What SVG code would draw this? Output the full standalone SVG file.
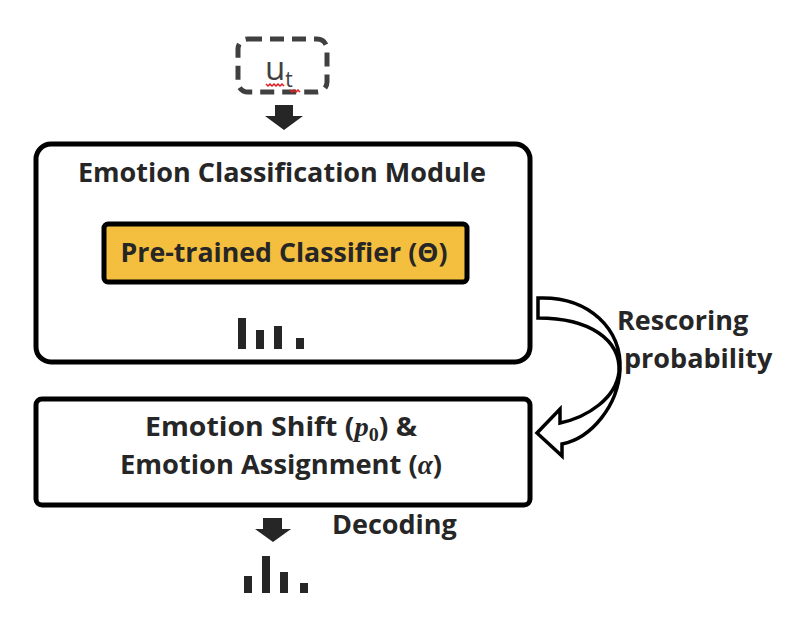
<svg xmlns="http://www.w3.org/2000/svg" width="788" height="620" viewBox="0 0 788 620">
<style>
.t{font-family:"Open Sans","Liberation Sans",sans-serif;font-weight:bold;fill:#262626;font-size:27px}
.box{fill:#fff;stroke:#000;stroke-width:5}
.bar{fill:#262626}
.blk{fill:#262626}
.m{font-family:"Liberation Serif",serif;font-style:italic}
</style>
<rect width="788" height="620" fill="#fff"/>
<g id="input">
<rect x="238" y="39" width="89" height="53" rx="10" fill="none" stroke="#404040" stroke-width="5" stroke-dasharray="14,8"/>
<text x="265" y="80" font-family="Open Sans,Liberation Sans,sans-serif" font-size="33" fill="#404040">u<tspan font-size="21" dy="7">t</tspan></text>
<path d="M266 84 l2 2 2-2 2 2 2-2 2 2 2-2 2 2 2-2 2 2 M290 90 l2 2 2-2 2 2 2-2 2 2" fill="none" stroke="#e02020" stroke-width="1.5"/>
</g>
<g id="module">
<rect class="box" x="36" y="144" width="494" height="218" rx="15"/>
<text class="t" x="282" y="182" text-anchor="middle" textLength="408" lengthAdjust="spacingAndGlyphs">Emotion Classification Module</text>
<g id="classifier">
<rect x="104" y="224" width="363" height="58" rx="4" fill="#F4BF3F" stroke="#000" stroke-width="5"/>
<text class="t" x="284" y="262" text-anchor="middle" textLength="327" lengthAdjust="spacingAndGlyphs">Pre-trained Classifier (Θ)</text>
</g>
<rect class="bar" x="238" y="318" width="8" height="31"/>
<rect class="bar" x="256" y="330" width="8" height="19"/>
<rect class="bar" x="274" y="326" width="8" height="23"/>
<rect class="bar" x="296" y="338" width="8" height="11"/>
</g>
<g id="shift">
<rect class="box" x="36" y="399" width="494" height="106" rx="6"/>
<text class="t" x="281" y="436" text-anchor="middle" textLength="272" lengthAdjust="spacingAndGlyphs">Emotion Shift (<tspan class="m">p</tspan><tspan font-size="19" font-family="Liberation Serif,serif" dy="5">0</tspan><tspan dy="-5">) &amp;</tspan></text>
<text class="t" x="281" y="474" text-anchor="middle" textLength="322" lengthAdjust="spacingAndGlyphs">Emotion Assignment (<tspan class="m">α</tspan>)</text>
</g>
<g id="output">
<rect class="bar" x="244" y="576" width="8" height="17"/>
<rect class="bar" x="262" y="556" width="8" height="37"/>
<rect class="bar" x="280" y="572" width="8" height="21"/>
<rect class="bar" x="300" y="583" width="8" height="10"/>
</g>
<g id="connectors">
<path class="blk" d="M275 105 h18 v11 h10 l-19 14 l-19 -14 h10 z"/>
<path class="blk" d="M263 518 h19 v11 h9 l-18 13 l-18 -13 h8 z"/>
<path d="M538 298 C590 296 622 330 620 370 C618 405 592 438 562 444 L562 456 L537 433 L560 409 L560 423 C588 417 616 398 619 372 C621 340 590 318 538 318 Z" fill="#fff" stroke="#000" stroke-width="3.5" stroke-linejoin="miter"/>
<text class="t" x="617" y="330">Rescoring</text>
<text class="t" x="624" y="368">probability</text>
<text class="t" x="332" y="534">Decoding</text>
</g>
</svg>
